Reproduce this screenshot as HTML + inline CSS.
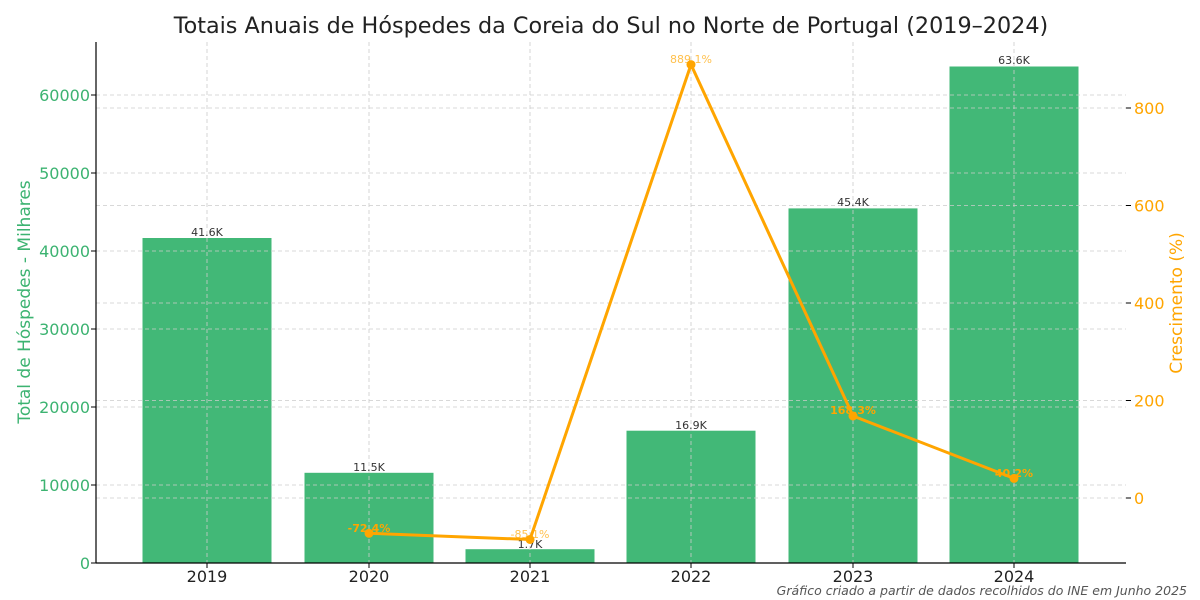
<!DOCTYPE html>
<html><head><meta charset="utf-8"><style>body{margin:0;background:#fff}svg{display:block}text{font-family:"DejaVu Sans","Liberation Sans",sans-serif}</style></head><body>
<svg width="1200" height="600" viewBox="0 0 1200 600">
<text x="611" y="33" font-size="22.3" text-anchor="middle" fill="#222">Totais Anuais de Hóspedes da Coreia do Sul no Norte de Portugal (2019–2024)</text>
<g fill="#42b877" stroke="#42b877" stroke-width="1">
<rect x="143" y="238.5" width="128" height="324.5"/>
<rect x="305" y="473.3" width="128" height="89.7"/>
<rect x="466" y="549.7" width="128" height="13.3"/>
<rect x="627" y="431.2" width="128" height="131.8"/>
<rect x="789" y="208.9" width="128" height="354.1"/>
<rect x="950" y="67" width="128" height="496"/>
</g>
<g stroke="#ccc" stroke-width="0.8" stroke-dasharray="4,3">
<line x1="96" x2="1126" y1="485" y2="485"/><line x1="96" x2="1126" y1="407" y2="407"/><line x1="96" x2="1126" y1="329" y2="329"/><line x1="96" x2="1126" y1="251" y2="251"/><line x1="96" x2="1126" y1="173" y2="173"/><line x1="96" x2="1126" y1="95" y2="95"/>
<line x1="96" x2="1126" y1="498" y2="498"/><line x1="96" x2="1126" y1="400.5" y2="400.5"/><line x1="96" x2="1126" y1="303" y2="303"/><line x1="96" x2="1126" y1="205.5" y2="205.5"/><line x1="96" x2="1126" y1="108" y2="108"/>
<line x1="207" x2="207" y1="42" y2="563"/><line x1="369" x2="369" y1="42" y2="563"/><line x1="530" x2="530" y1="42" y2="563"/><line x1="691" x2="691" y1="42" y2="563"/><line x1="853" x2="853" y1="42" y2="563"/><line x1="1014" x2="1014" y1="42" y2="563"/>
</g>
<g stroke="#000" stroke-width="1.2"><line x1="96" y1="42" x2="96" y2="563"/><line x1="96" y1="563" x2="1126" y2="563"/></g>
<g font-size="16" fill="#3cb371" text-anchor="end">
<text x="90" y="569">0</text><text x="90" y="491">10000</text><text x="90" y="413">20000</text><text x="90" y="335">30000</text><text x="90" y="257">40000</text><text x="90" y="179">50000</text><text x="90" y="101">60000</text>
</g>
<g stroke="#000"><line x1="91" x2="96" y1="563" y2="563"/><line x1="91" x2="96" y1="485" y2="485"/><line x1="91" x2="96" y1="407" y2="407"/><line x1="91" x2="96" y1="329" y2="329"/><line x1="91" x2="96" y1="251" y2="251"/><line x1="91" x2="96" y1="173" y2="173"/><line x1="91" x2="96" y1="95" y2="95"/>
<line x1="207" x2="207" y1="563" y2="568"/><line x1="369" x2="369" y1="563" y2="568"/><line x1="530" x2="530" y1="563" y2="568"/><line x1="691" x2="691" y1="563" y2="568"/><line x1="853" x2="853" y1="563" y2="568"/><line x1="1014" x2="1014" y1="563" y2="568"/>
<line x1="1126" x2="1131" y1="498" y2="498"/><line x1="1126" x2="1131" y1="400.5" y2="400.5"/><line x1="1126" x2="1131" y1="303" y2="303"/><line x1="1126" x2="1131" y1="205.5" y2="205.5"/><line x1="1126" x2="1131" y1="108" y2="108"/></g>
<text transform="translate(30,302) rotate(-90)" font-size="17" fill="#3cb371" text-anchor="middle">Total de Hóspedes - Milhares</text>
<g font-size="16" fill="#ffa500"><text x="1134" y="504">0</text><text x="1134" y="406.5">200</text><text x="1134" y="309">400</text><text x="1134" y="211.5">600</text><text x="1134" y="114">800</text></g>
<text transform="translate(1182,303) rotate(-90)" font-size="17" fill="#ffa500" text-anchor="middle">Crescimento (%)</text>
<g font-size="16" fill="#222" text-anchor="middle"><text x="207" y="582">2019</text><text x="369" y="582">2020</text><text x="530" y="582">2021</text><text x="691" y="582">2022</text><text x="853" y="582">2023</text><text x="1014" y="582">2024</text></g>
<g font-size="11" fill="#333" text-anchor="middle"><text x="207" y="236">41.6K</text><text x="369" y="471">11.5K</text><text x="530" y="548">1.7K</text><text x="691" y="429">16.9K</text><text x="853" y="206">45.4K</text><text x="1014" y="64">63.6K</text></g>
<polyline points="369,533.3 530,539.5 691,64.6 853,416 1014,478.4" fill="none" stroke="#ffa500" stroke-width="3"/>
<g fill="#ffa500"><circle cx="369" cy="533.3" r="4.5"/><circle cx="530" cy="539.5" r="4.5"/><circle cx="691" cy="64.6" r="4.5"/><circle cx="853" cy="416" r="4.5"/><circle cx="1014" cy="478.4" r="4.5"/></g>
<g font-size="11" fill="#ffa500" font-weight="bold" text-anchor="middle"><text x="369" y="532">-72.4%</text><text x="530" y="538" fill-opacity="0.7" font-weight="normal">-85.1%</text><text x="691" y="63" fill-opacity="0.7" font-weight="normal">889.1%</text><text x="853" y="414">168.3%</text><text x="1014" y="477">40.2%</text></g>
<text x="1187" y="595" font-size="12.5" font-style="italic" fill="#555" text-anchor="end">Gráfico criado a partir de dados recolhidos do INE em Junho 2025</text>
</svg>
</body></html>
